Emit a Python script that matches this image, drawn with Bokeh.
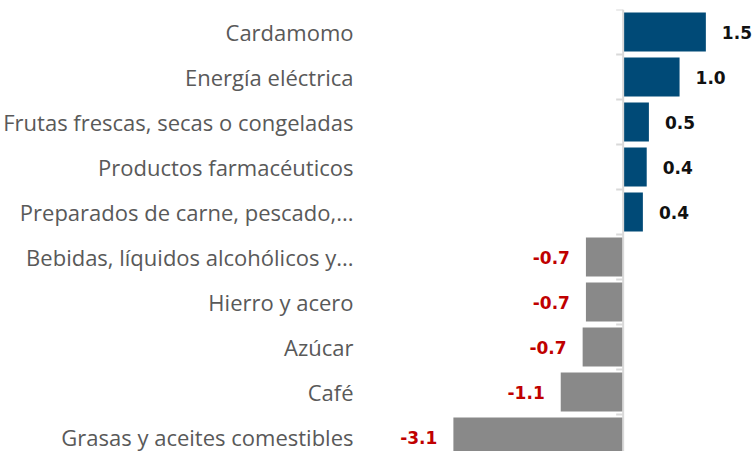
import math
from bokeh.plotting import figure
from bokeh.models import ColumnDataSource, Range1d, FixedTicker, Span
from bokeh.core.properties import value
from bokeh.embed import file_html
from bokeh.resources import INLINE

categories = [
    "Cardamomo",
    "Energía eléctrica",
    "Frutas frescas, secas o congeladas",
    "Productos farmacéuticos",
    "Preparados de carne, pescado,...",
    "Bebidas, líquidos alcohólicos y...",
    "Hierro y acero",
    "Azúcar",
    "Café",
    "Grasas y aceites comestibles",
]
values = [1.51, 1.03, 0.47, 0.43, 0.36, -0.68, -0.68, -0.74, -1.14, -3.10]

POS_COLOR = "#004a77"
NEG_COLOR = "#898989"
POS_TEXT = "#111111"
NEG_TEXT = "#c00000"
AXIS_COLOR = "#d9d9d9"

ypos = list(range(len(categories)))
src = ColumnDataSource(dict(
    y=ypos,
    v=values,
    zero=[0] * len(values),
    color=[POS_COLOR if v >= 0 else NEG_COLOR for v in values],
))
pos = ColumnDataSource(dict(
    y=[y for y, v in zip(ypos, values) if v >= 0],
    v=[v for v in values if v >= 0],
    label=[f"{v:.1f}" for v in values if v >= 0],
))
neg = ColumnDataSource(dict(
    y=[y for y, v in zip(ypos, values) if v < 0],
    v=[v for v in values if v < 0],
    label=[f"{v:.1f}" for v in values if v < 0],
))
bounds = ColumnDataSource(dict(
    x=[0] * (len(categories) + 1),
    y=[i - 0.5 for i in range(len(categories) + 1)],
))

p = figure(
    width=753, height=451,
    x_range=Range1d(-4.632, 2.38),
    y_range=Range1d(9.322, -0.5),
    output_backend="svg", toolbar_location=None,
    x_axis_location=None,
    min_border_left=368, min_border_right=0, min_border_top=9, min_border_bottom=0,
)
p.outline_line_color = None
p.xgrid.visible = False
p.ygrid.visible = False

p.hbar(y="y", left="zero", right="v", height=0.87, color="color", line_color=None, source=src)

# zero line with small boundary ticks
p.ray(x="x", y="y", length=7, length_units="screen", angle=math.pi,
      line_color=AXIS_COLOR, line_width=2, source=bounds)
p.add_layout(Span(location=0, dimension="height", line_color=AXIS_COLOR, line_width=2))

yax = p.yaxis[0]
yax.ticker = FixedTicker(ticks=ypos)
yax.major_label_overrides = {i: c for i, c in zip(ypos, categories)}
yax.axis_line_color = None
yax.major_tick_line_color = None
yax.minor_tick_line_color = None
yax.major_label_standoff = 10
yax.major_label_text_font = "Open Sans"
yax.major_label_text_font_size = "22px"
yax.major_label_text_color = "#595959"

p.text(x="v", y="y", text="label", source=pos, x_offset=16,
       text_align="left", text_baseline="middle",
       text_font=value("DejaVu Sans"), text_font_style="bold",
       text_font_size="17px", text_color=POS_TEXT)
p.text(x="v", y="y", text="label", source=neg, x_offset=-16,
       text_align="right", text_baseline="middle",
       text_font=value("DejaVu Sans"), text_font_style="bold",
       text_font_size="17px", text_color=NEG_TEXT)

open("out.html", "w").write(file_html(p, INLINE))
